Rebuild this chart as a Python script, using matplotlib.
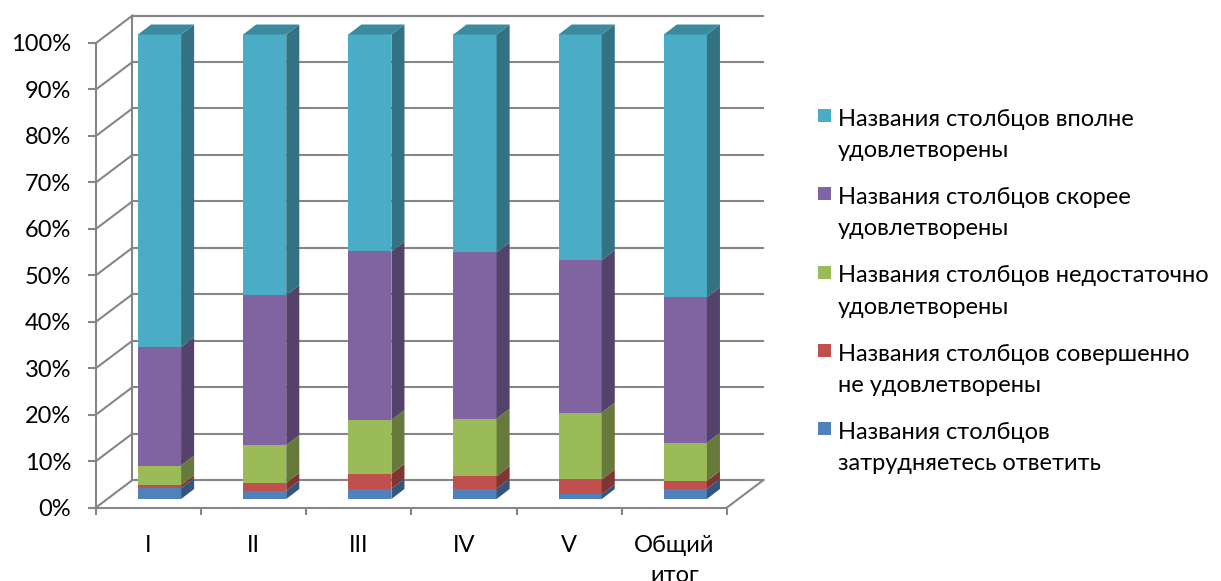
import matplotlib
import numpy as np
from matplotlib import pyplot as plt
from matplotlib.patches import Patch, Rectangle
from matplotlib.legend_handler import HandlerPatch

matplotlib.rcParams['font.family'] = ['Lato', 'DejaVu Sans']

# ---------------- данные ----------------
categories = ['I', 'II', 'III', 'IV', 'V', 'Общий\nитог']
hard_to_say = [2.3, 1.8, 2.2, 2.2, 1.0, 2.2]
not_satisfied = [0.7, 1.7, 3.2, 2.7, 3.2, 1.7]
insufficient = [4.2, 8.1, 11.6, 12.4, 14.4, 8.2]
rather = [25.5, 32.3, 36.3, 35.8, 32.8, 31.3]
fully = [67.3, 56.1, 46.7, 46.9, 48.6, 56.6]

series = [hard_to_say, not_satisfied, insufficient, rather, fully]
names = ['Названия столбцов\nзатрудняетесь ответить',
         'Названия столбцов совершенно\nне удовлетворены',
         'Названия столбцов недостаточно\nудовлетворены',
         'Названия столбцов скорее\nудовлетворены',
         'Названия столбцов вполне\nудовлетворены']
colors = ['#4F81BD', '#C0504D', '#9BBB59', '#8064A2', '#4BACC6']
yticks = np.arange(0, 101, 10)

def shade(c, k):
    r, g, b = matplotlib.colors.to_rgb(c)
    return (r * k, g * k, b * k)

# квадрат легенды напротив первой строки подписи
def top_square(legend, orig_handle, xdescent, ydescent, width, height, fontsize):
    return Rectangle((-xdescent, -ydescent + 14.5), width, width)

# ---------------- рисунок ----------------
W, H = 1221, 581
fig = plt.figure(figsize=(W / 100, H / 100), dpi=100)
ax = fig.add_axes([96 / W, 1 - 507.5 / H, 631 / W, 464.5 / H])
ax.set_xlim(-0.5, 5.5)
ax.set_ylim(0, 100)

grid_c = '#868686'
lw = 1.5
# глубина "коробки" и положение столбцов в ней (в единицах данных)
ddx, ddy = 0.347, 5.92
bx, by = 0.104, 1.83
bw = 0.41
bdx, bdy = 0.124, 2.15

# стенки и сетка
for t in yticks:
    ax.plot([-0.5, -0.5 + ddx], [t, t + ddy], color=grid_c, lw=lw, clip_on=False, zorder=1)
    ax.plot([-0.5 + ddx, 5.5 + ddx], [t + ddy, t + ddy], color=grid_c, lw=lw, clip_on=False, zorder=1)
ax.plot([-0.5 + ddx, -0.5 + ddx], [ddy, 100 + ddy], color=grid_c, lw=lw, clip_on=False, zorder=1)
ax.plot([5.5, 5.5 + ddx], [0, ddy], color=grid_c, lw=lw, clip_on=False, zorder=1)

# столбцы
x = np.arange(len(categories))
bottom = np.zeros(len(categories))
for vals, c in zip(series, colors):
    vals = np.array(vals)
    ax.bar(x + bx, vals, width=bw, bottom=bottom + by, color=c, edgecolor='none',
           zorder=3, clip_on=False)
    for xi, b0, v in zip(x, bottom, vals):
        xr = xi + bx + bw / 2
        y0, y1 = b0 + by, b0 + v + by
        ax.fill([xr, xr + bdx, xr + bdx, xr], [y0, y0 + bdy, y1 + bdy, y1],
                color=shade(c, 0.66), lw=0, zorder=3, clip_on=False)
    bottom = bottom + vals

# верхняя грань
top_c = shade(colors[-1], 0.8)
for xi, b in zip(x, bottom):
    xl = xi + bx - bw / 2
    xr = xi + bx + bw / 2
    yt = b + by
    ax.fill([xl, xr, xr + bdx, xl + bdx], [yt, yt, yt + bdy, yt + bdy],
            color=top_c, lw=0, zorder=3, clip_on=False)

# оси
for s in ['top', 'right']:
    ax.spines[s].set_visible(False)
for s in ['left', 'bottom']:
    ax.spines[s].set_color(grid_c)
    ax.spines[s].set_linewidth(lw)
ax.set_yticks(yticks)
ax.set_yticklabels([f'{t}%' for t in yticks])
ax.tick_params(axis='y', length=6, width=lw, color=grid_c, pad=12, labelsize=17)
ax.set_xticks(x)
ax.set_xticklabels(categories)
ax.tick_params(axis='x', which='major', length=0, pad=20, labelsize=17)
ax.set_xticks(np.arange(-0.5, 6, 1), minor=True)
ax.tick_params(axis='x', which='minor', length=5, width=lw, color=grid_c)
for lab in ax.get_xticklabels():
    lab.set_linespacing(1.5)

# легенда
handles = [Patch(facecolor=c) for c in colors[::-1]]
leg = fig.legend(handles, names[::-1], loc='upper left', bbox_to_anchor=(818 / W, 1 - 109 / H),
                 frameon=False, fontsize=17, borderpad=0, borderaxespad=0,
                 handlelength=0.55, handleheight=0.55, handletextpad=0.3, labelspacing=1.1,
                 handler_map={Patch: HandlerPatch(patch_func=top_square)})
for t in leg.get_texts():
    t.set_linespacing(1.6)

fig.savefig('out.png', dpi=100)
